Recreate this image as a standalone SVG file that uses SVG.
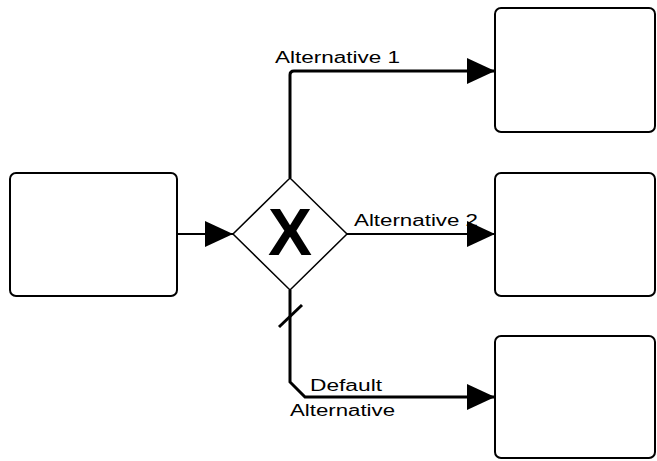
<svg xmlns="http://www.w3.org/2000/svg" width="657" height="461" viewBox="0 0 657 461">
<style>
.box{fill:#fff;stroke:#000;stroke-width:2}
.gw{fill:#fff;stroke:#000;stroke-width:1.5}
.c{fill:none;stroke:#000}
.thin{stroke-width:2}
.thick{stroke-width:3}
.lbl{font-family:"Liberation Sans",Arial,sans-serif;font-size:16px;fill:#000}
.x{font-family:"Liberation Sans",Arial,sans-serif;font-weight:bold;font-size:66px;fill:#000}
</style>
<defs>
<marker id="ah" markerUnits="userSpaceOnUse" markerWidth="28" markerHeight="26" refX="28" refY="13" orient="auto" viewBox="0 0 28 26">
<path d="M0,0 L28,13 L0,26 Z" fill="#000"/>
</marker>
</defs>
<g id="task-source"><rect class="box" x="10" y="173" width="167" height="123" rx="6"/></g>
<g id="gateway">
<polygon class="gw" points="290,178 347,234 290,290 233,234"/>
<text class="x" x="290" y="255" text-anchor="middle">X</text>
</g>
<g id="task-1"><rect class="box" x="495" y="8" width="160" height="124" rx="6"/></g>
<g id="task-2"><rect class="box" x="495" y="173" width="160" height="123" rx="6"/></g>
<g id="task-3"><rect class="box" x="495" y="336" width="160" height="122" rx="6"/></g>
<g id="connectors">
<path class="c thin" d="M177,234 H233" marker-end="url(#ah)"/>
<path class="c thick" d="M290,178 V75 Q290,71 294,71 H495" marker-end="url(#ah)"/>
<path class="c thin" d="M347,234 H495" marker-end="url(#ah)"/>
<path class="c thick" d="M290,290 V382 L305,397 H495" marker-end="url(#ah)"/>
<path class="c thick" d="M279,327 L302,305"/>
<text class="lbl" x="275" y="63" textLength="125" lengthAdjust="spacingAndGlyphs">Alternative 1</text>
<text class="lbl" x="354" y="226" textLength="124" lengthAdjust="spacingAndGlyphs">Alternative 2</text>
<text class="lbl" x="310" y="391" textLength="72" lengthAdjust="spacingAndGlyphs">Default</text>
<text class="lbl" x="290" y="416" textLength="105" lengthAdjust="spacingAndGlyphs">Alternative</text>
</g>
</svg>
